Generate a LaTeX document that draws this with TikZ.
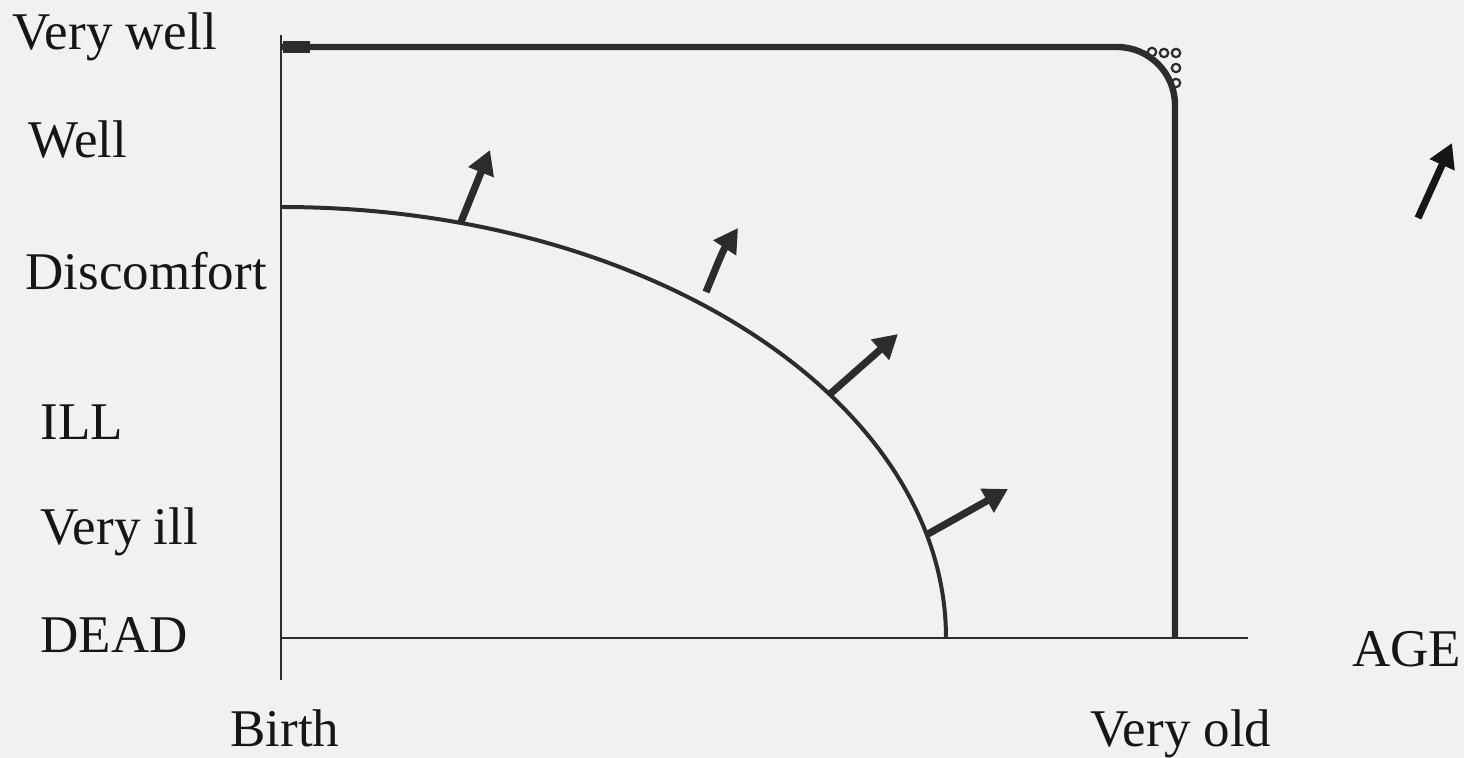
\documentclass[tikz,border=0pt]{standalone}
\usepackage{fontspec}
\setmainfont{Liberation Serif}
\usetikzlibrary{arrows.meta}
\definecolor{ink}{HTML}{2C2C2E}
\definecolor{txt}{HTML}{161618}
\definecolor{paper}{HTML}{F1F1F3}
\tikzset{
  axisln/.style={line width=1pt, ink},
  wellln/.style={line width=3.2pt, ink, rounded corners=29pt},
  lifecurve/.style={line width=2pt, ink},
  pusharr/.style={-{Triangle[length=12pt,width=13pt]}, line width=3.6pt, ink},
  dotmk/.style={draw=ink, line width=1.1pt},
  lab/.style={font=\fontsize{26.5}{30}\selectfont, text=txt, anchor=base west, inner sep=0pt},
}

\begin{document}
\begin{tikzpicture}[x=0.5pt,y=-0.5pt]
\useasboundingbox (0,0) rectangle (1464,758);
\fill[paper] (0,0) rectangle (1464,758);

% axes
\coordinate (O) at (281,638);
\coordinate (ytop) at (281,35);
\coordinate (ybot) at (281,680);
\coordinate (xend) at (1248,638);
\draw[axisln] (ytop) -- (ybot);
\draw[axisln] (O) -- (xend);

% health levels
\node[lab] (lVwell) at (12,50) {Very well};
\node[lab] (lWell) at (28,158) {Well};
\node[lab] (lDisc) at (25,290) {Discomfort};
\node[lab] (lIll) at (40,440) {ILL};
\node[lab] (lVill) at (40,545) {Very ill};
\node[lab] (lDead) at (40,653) {DEAD};
% age
\node[lab] (lBirth) at (230,747) {Birth};
\node[lab] (lVold) at (1090,747) {Very old};
\node[lab] (lAge) at (1352,667) {AGE};

% staying very well until very old
\draw[line width=6pt, ink] (283,47) -- (310,47);
\draw[wellln] (281,47) -- (1175,47) -- (1175,638);
\foreach \p in {(1152,52),(1164,53),(1176,53),(1176,68),(1176,83)}
  \draw[dotmk] \p circle[radius=4.2];

% usual decline
\draw[lifecurve] (281,207) arc[start angle=-90, end angle=0, x radius=665, y radius=431];

% pushing the curve up
\coordinate (b1) at (461,222);
\coordinate (t1) at (490,150);
\coordinate (b2) at (706,292);
\coordinate (t2) at (738,228);
\coordinate (b3) at (830,394);
\coordinate (t3) at (898,334);
\coordinate (b4) at (928,534);
\coordinate (t4) at (1008,489);
\coordinate (b5) at (1418,218);
\coordinate (t5) at (1452,143);
\draw[pusharr] (b1) -- (t1);
\draw[pusharr] (b2) .. controls (716,268) and (722,252) .. (t2);
\draw[pusharr] (b3) -- (t3);
\draw[pusharr] (b4) -- (t4);
\draw[pusharr, txt] (b5) -- (t5);

\end{tikzpicture}
\end{document}
